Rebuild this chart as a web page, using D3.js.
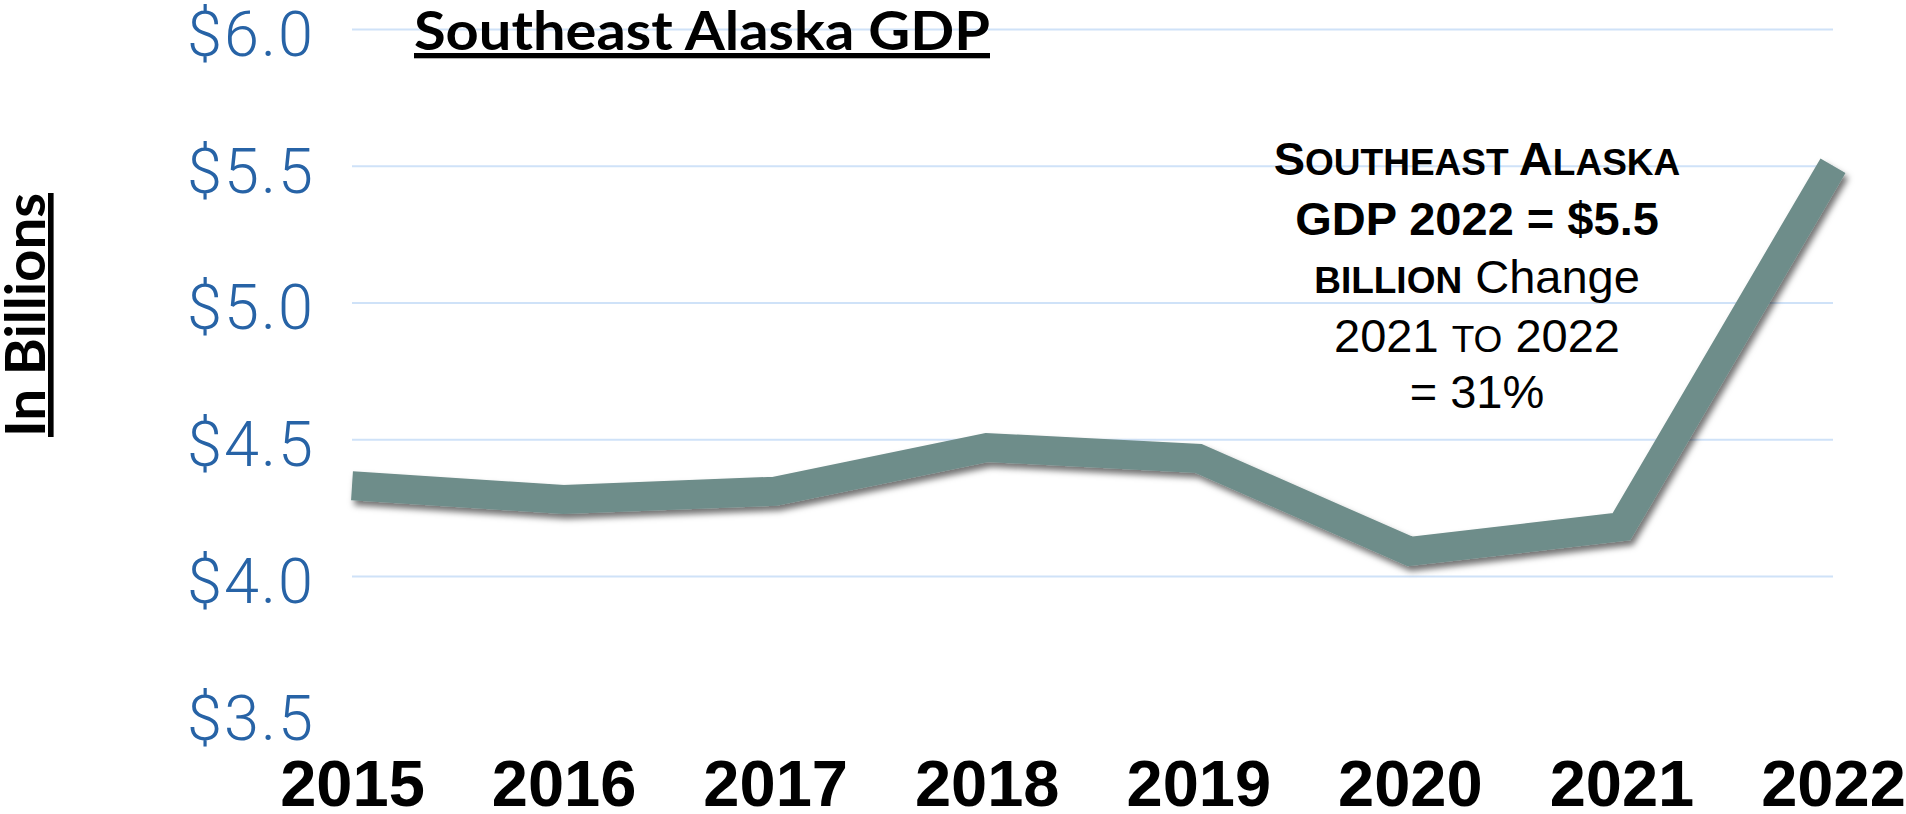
<!DOCTYPE html>
<html>
<head>
<meta charset="utf-8">
<script src="https://cdn.jsdelivr.net/npm/d3@7"></script>
<style>
  body { margin: 0; background: #fff; }
  svg { display: block; }
  .ytick text { font-family: Roboto, "Liberation Sans", sans-serif; font-weight: 300; fill: #2763a6; letter-spacing: 2px; }
  .xtick text { font-family: "Liberation Sans", Arial, sans-serif; font-weight: bold; fill: #000; }
  .note { font-family: "Liberation Sans", Arial, sans-serif; fill: #000; }
</style>
</head>
<body>
<div id="chart"></div>
<script>
// data (billions of dollars)
var years = ['2015', '2016', '2017', '2018', '2019', '2020', '2021', '2022'];
var gdp = [4.33, 4.28, 4.31, 4.47, 4.43, 4.09, 4.18, 5.50];
var yTicks = [3.5, 4.0, 4.5, 5.0, 5.5, 6.0];
var gridTicks = [4.0, 4.5, 5.0, 5.5, 6.0];

// constants
const WIDTH = 1906;
const HEIGHT = 814;
const LINE_COLOR = '#6e8d8a';
const GRID_COLOR = '#cfe2f8';

var svg = d3.select('#chart').append('svg')
            .attr('width', WIDTH)
            .attr('height', HEIGHT);

// drop shadow under the line
var filter = svg.append('defs').append('filter')
                .attr('id', 'shadow')
                .attr('x', '-5%').attr('y', '-20%')
                .attr('width', '110%').attr('height', '140%');
filter.append('feDropShadow')
      .attr('dx', 3)
      .attr('dy', 5)
      .attr('stdDeviation', 3)
      .attr('flood-color', '#000')
      .attr('flood-opacity', 0.55);

var x = d3.scalePoint().domain(years).range([352, 1833]);
var y = d3.scaleLinear().domain([4.0, 6.0]).range([576, 29]);

// gridlines
var grid = svg.append('g')
              .attr('transform', 'translate(352,0)')
              .call(d3.axisLeft(y).tickValues(gridTicks).tickSize(-(1833 - 352)).tickFormat(''));
grid.select('.domain').remove();
grid.selectAll('line').attr('stroke', GRID_COLOR).attr('stroke-width', 2);

// y labels
var yAxis = svg.append('g')
               .classed('ytick', true)
               .attr('transform', 'translate(352,0)')
               .call(d3.axisLeft(y).tickValues(yTicks).tickSize(0).tickPadding(37)
                       .tickFormat(d => '$' + d3.format('.1f')(d)));
yAxis.select('.domain').remove();
yAxis.selectAll('text').attr('font-size', 63).attr('dy', '0.42em');

// x labels
var xAxis = svg.append('g')
               .classed('xtick', true)
               .attr('transform', 'translate(0,806)')
               .call(d3.axisBottom(x).tickSize(0));
xAxis.select('.domain').remove();
xAxis.selectAll('text').attr('font-size', 65).attr('y', 0).attr('dy', 0);

// the line
var line = d3.line()
             .x((d, i) => x(years[i]))
             .y(d => y(d));

svg.append('path')
   .datum(gdp)
   .attr('d', line)
   .attr('fill', 'none')
   .attr('stroke', LINE_COLOR)
   .attr('stroke-width', 29)
   .attr('stroke-linejoin', 'miter')
   .attr('stroke-linecap', 'butt')
   .attr('filter', 'url(#shadow)');

// title
svg.append('text')
   .attr('x', 414)
   .attr('y', 50)
   .attr('font-family', 'Lato, "Open Sans", sans-serif')
   .attr('font-weight', 700)
   .attr('font-size', 53)
   .attr('textLength', 576)
   .attr('lengthAdjust', 'spacingAndGlyphs')
   .style('text-decoration', 'underline')
   .text('Southeast Alaska GDP');

// y axis title
svg.append('text')
   .attr('transform', 'translate(45,315) rotate(-90)')
   .attr('text-anchor', 'middle')
   .attr('font-family', 'Lato, "Liberation Sans", sans-serif')
   .attr('font-weight', 700)
   .attr('font-size', 56)
   .attr('textLength', 244)
   .attr('lengthAdjust', 'spacingAndGlyphs')
   .style('text-decoration', 'underline')
   .text('In Billions');

// annotation, small caps done by hand
var BIG = 47, SMALL = 37;
var noteLines = [
  {y: 175, parts: [['S', BIG, 'bold'], ['OUTHEAST ', SMALL, 'bold'], ['A', BIG, 'bold'], ['LASKA', SMALL, 'bold']]},
  {y: 235, parts: [['GDP 2022 = $5.5', BIG, 'bold']]},
  {y: 293, parts: [['BILLION', SMALL, 'bold'], [' Change', BIG, 'normal']]},
  {y: 352, parts: [['2021 ', BIG, 'normal'], ['TO', SMALL, 'normal'], [' 2022', BIG, 'normal']]},
  {y: 408, parts: [['= 31%', BIG, 'normal']]}
];

var note = svg.selectAll('text.note').data(noteLines)
              .enter()
              .append('text')
              .classed('note', true)
              .attr('x', 1477)
              .attr('y', d => d.y)
              .attr('text-anchor', 'middle')
              .style('white-space', 'pre');

note.selectAll('tspan').data(d => d.parts)
    .enter()
    .append('tspan')
    .attr('font-size', d => d[1])
    .attr('font-weight', d => d[2])
    .text(d => d[0]);
</script>
</body>
</html>
